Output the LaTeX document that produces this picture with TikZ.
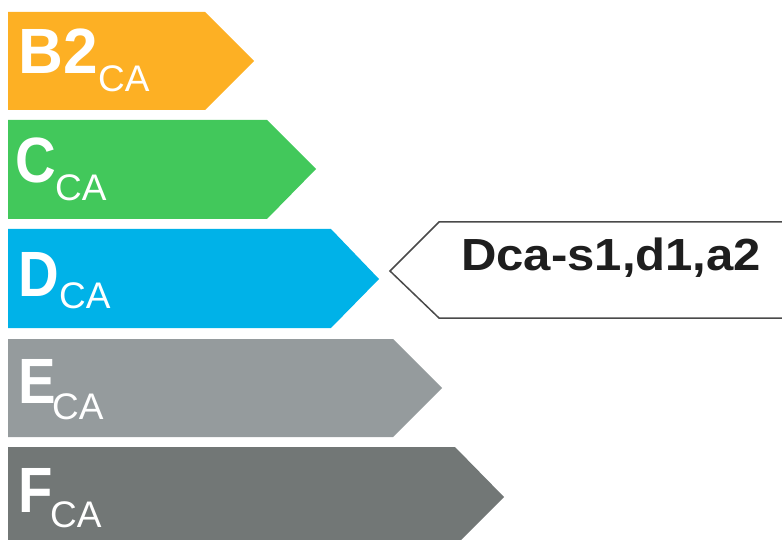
\documentclass[tikz,border=0pt]{standalone}
\usepackage{fontspec}
\setmainfont{Liberation Sans}
\definecolor{cB}{HTML}{FDB024}
\definecolor{cC}{HTML}{42C85B}
\definecolor{cD}{HTML}{00B2E8}
\definecolor{cE}{HTML}{959B9D}
\definecolor{cF}{HTML}{727776}
\definecolor{lbl}{HTML}{4A4A4A}
\definecolor{txt}{HTML}{1E1E1E}
\newcommand\narrowtxt[1]{\scalebox{0.88}[1]{#1}}
\newcommand\widetxt[1]{\scalebox{1.09}[1]{#1}}
\tikzset{
  bigletter/.style={anchor=base west, inner sep=0pt, text=white, font=\fontsize{64}{64}\selectfont\bfseries},
  subletter/.style={anchor=base west, inner sep=0pt, text=white, font=\fontsize{37}{37}\selectfont},
  labeltext/.style={anchor=base west, inner sep=0pt, text=txt, font=\fontsize{45}{45}\selectfont\bfseries},
  labelbox/.style={draw=lbl, line width=1.5pt, fill=white, line join=miter}
}
\begin{document}
\begin{tikzpicture}[x=1pt,y=-1pt]
\useasboundingbox (0,0) rectangle (782,540);
\clip (0,0) rectangle (782,540);
% bars
\fill[cB] (8,12) -- (205,12) -- (254,61) -- (205,110) -- (8,110) -- cycle;
\fill[cC] (8,120) -- (267,120) -- (316,169) -- (267,219) -- (8,219) -- cycle;
\fill[cD] (8,229) -- (331,229) -- (379,279) -- (331,328) -- (8,328) -- cycle;
\fill[cE] (8,339) -- (393,339) -- (442,388) -- (393,437) -- (8,437) -- cycle;
\fill[cF] (8,447) -- (455,447) -- (504,497) -- (455,546) -- (8,546) -- cycle;
% letters
\node[bigletter] (b2) at (18,74) {\scalebox{0.97}[1]{B2}};
\node[subletter] (b2s) at (98,92) {CA};
\node[bigletter] (c) at (15,183) {\narrowtxt{C}};
\node[subletter] (cs) at (55,201) {CA};
\node[bigletter] (d) at (18,296) {\narrowtxt{D}};
\node[subletter] (ds) at (59,308) {CA};
\node[bigletter] (e) at (18,403) {\narrowtxt{E}};
\node[subletter] (es) at (52,419) {CA};
\node[bigletter] (f) at (18,512) {\narrowtxt{F}};
\node[subletter] (fs) at (50,527) {CA};
% label
\draw[labelbox] (790,222) -- (439,222) -- (390,271) -- (439,318) -- (790,318);
\node[labeltext] (lab) at (461,270) {\widetxt{Dca-s1,d1,a2}};
\end{tikzpicture}
\end{document}
